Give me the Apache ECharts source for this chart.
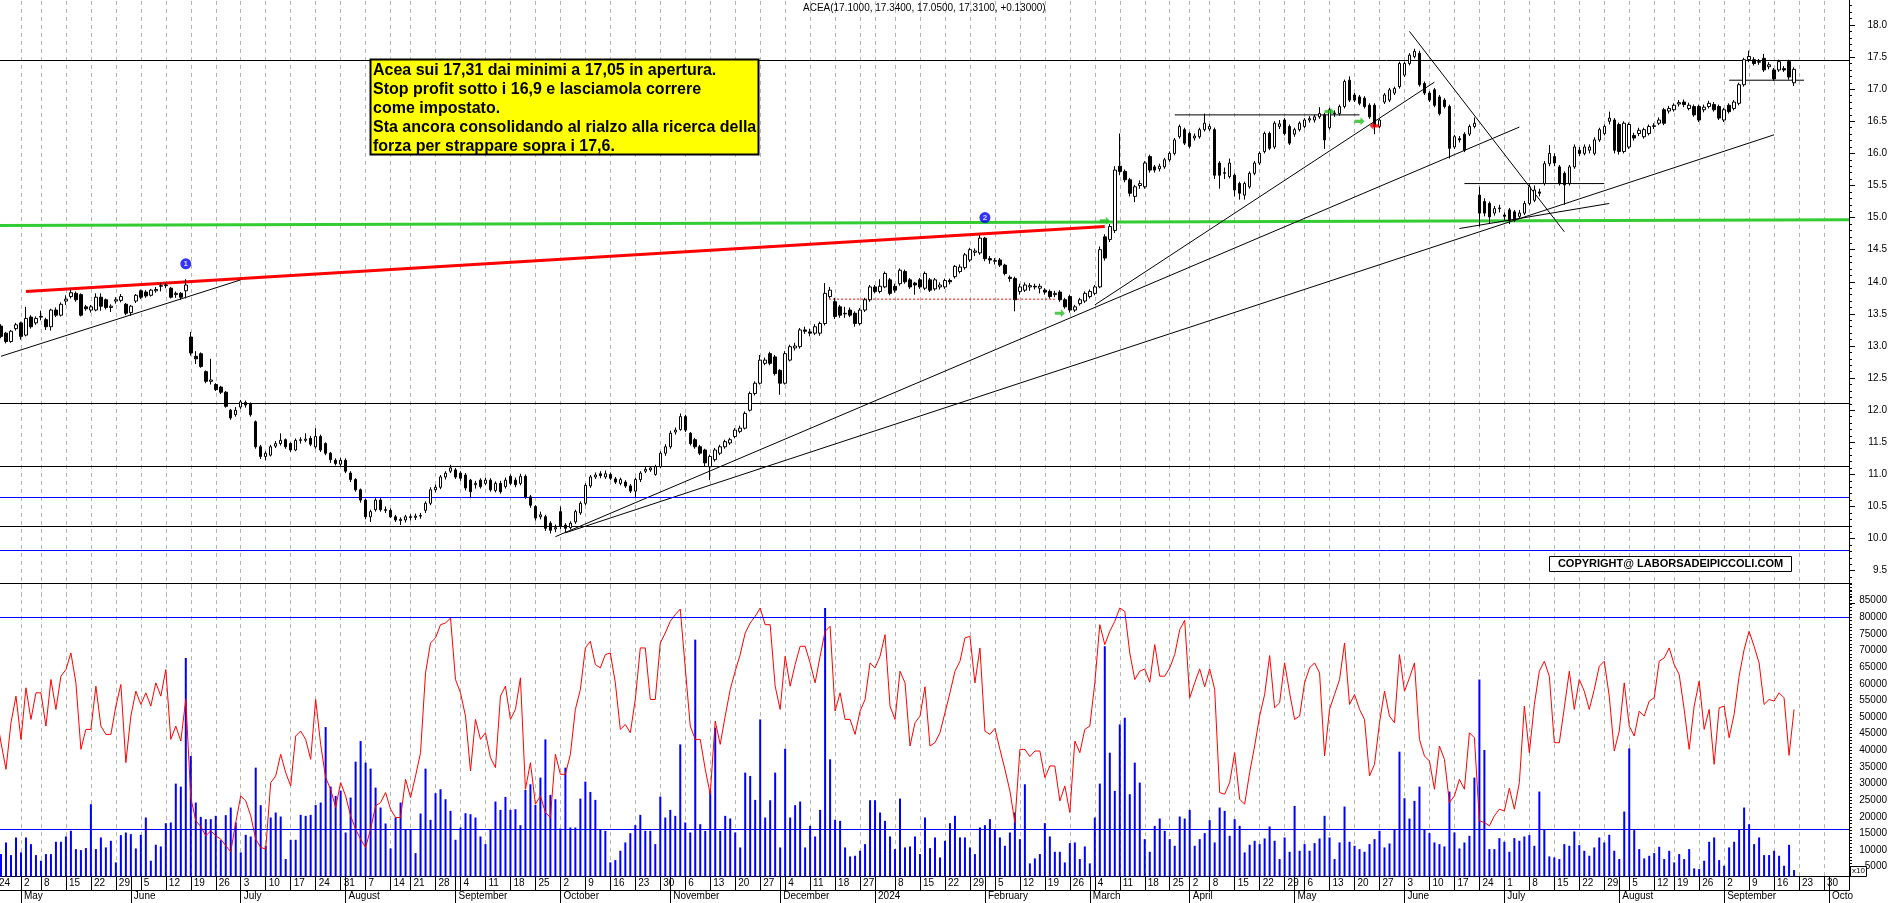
<!DOCTYPE html>
<html><head><meta charset="utf-8">
<script src="https://cdn.jsdelivr.net/npm/echarts@6/dist/echarts.min.js"></script>
<style>html,body{margin:0;padding:0;background:#fff}#c{width:1890px;height:903px}</style>
</head><body><div id="c"></div>
<script>
// ---------- DATA ----------
const START_DAY = '2023-04-24';
const HOLIDAYS = ['2023-05-01','2023-08-15','2023-12-25','2023-12-26','2024-01-01','2024-03-29','2024-04-01','2024-05-01','2024-08-15'];
const SLOT_COUNT = 372;
const MONTH_NAMES = ['January','February','March','April','May','June','July','August','September','October','November','December'];
const TITLE = 'ACEA(17.1000, 17.3400, 17.0500, 17.3100, +0.13000)';
const NOTE_LINES = ['Acea sui 17,31 dai minimi a 17,05 in apertura.','Stop profit sotto i 16,9 e lasciamola correre','come impostato.','Sta ancora consolidando al rialzo alla ricerca della','forza per strappare sopra i 17,6.'];
const COPYRIGHT = 'COPYRIGHT@ LABORSADEIPICCOLI.COM';

// [open, close, low, high] per trading day
const candles = [
[13.30,13.18,13.12,13.33],[13.31,13.15,13.12,13.34],[13.20,13.07,13.04,13.22],[13.07,13.23,13.05,13.25],[13.27,13.33,13.24,13.36],
[13.36,13.15,13.10,13.38],[13.17,13.43,13.15,13.61],[13.45,13.30,13.27,13.48],[13.36,13.43,13.33,13.46],[13.45,13.46,13.40,13.55],
[13.41,13.30,13.25,13.44],[13.30,13.56,13.24,13.58],[13.56,13.48,13.45,13.60],[13.48,13.65,13.46,13.68],[13.70,13.73,13.64,13.79],
[13.77,13.83,13.74,13.89],[13.82,13.72,13.69,13.85],[13.80,13.48,13.46,13.82],[13.61,13.58,13.55,13.64],[13.56,13.61,13.52,13.64],
[13.56,13.76,13.54,13.82],[13.76,13.62,13.55,13.82],[13.72,13.60,13.57,13.74],[13.60,13.62,13.53,13.65],[13.70,13.72,13.66,13.76],
[13.71,13.77,13.68,13.81],[13.65,13.51,13.48,13.67],[13.52,13.62,13.47,13.64],[13.70,13.79,13.67,13.81],[13.86,13.76,13.73,13.88],
[13.84,13.78,13.75,13.87],[13.79,13.87,13.77,13.89],[13.86,13.88,13.83,13.92],[13.93,13.94,13.85,13.98],[13.94,13.95,13.90,13.99],
[13.90,13.76,13.74,13.92],[13.80,13.82,13.75,13.85],[13.82,13.76,13.72,13.84],[13.86,13.95,13.74,14.04],[13.14,12.89,12.85,13.22],
[12.84,12.80,12.72,12.92],[12.88,12.68,12.66,12.90],[12.60,12.45,12.42,12.62],[12.45,12.47,12.40,12.80],[12.40,12.32,12.30,12.42],
[12.36,12.28,12.25,12.38],[12.28,12.06,12.04,12.30],[12.00,11.88,11.85,12.02],[11.93,12.00,11.90,12.05],[12.05,12.13,12.02,12.16],
[12.12,12.08,12.04,12.15],[12.10,11.93,11.90,12.12],[11.82,11.43,11.40,11.84],[11.43,11.28,11.24,11.46],[11.28,11.33,11.22,11.36],
[11.30,11.43,11.28,11.46],[11.44,11.48,11.41,11.52],[11.48,11.53,11.45,11.64],[11.54,11.43,11.40,11.56],[11.48,11.38,11.35,11.50],
[11.38,11.53,11.36,11.56],[11.53,11.54,11.48,11.58],[11.53,11.55,11.50,11.64],[11.56,11.47,11.44,11.60],[11.43,11.59,11.40,11.72],
[11.59,11.38,11.35,11.62],[11.48,11.33,11.30,11.50],[11.33,11.23,11.18,11.35],[11.22,11.17,11.14,11.25],[11.16,11.22,11.12,11.26],
[11.22,11.05,11.02,11.25],[11.02,10.92,10.88,11.05],[10.92,10.76,10.73,10.94],[10.76,10.60,10.56,10.78],[10.60,10.34,10.30,10.62],
[10.34,10.42,10.26,10.45],[10.45,10.60,10.42,10.63],[10.60,10.45,10.42,10.63],[10.45,10.44,10.40,10.50],[10.44,10.34,10.32,10.47],
[10.34,10.29,10.26,10.37],[10.28,10.30,10.21,10.33],[10.29,10.34,10.25,10.37],[10.34,10.33,10.28,10.38],[10.33,10.35,10.29,10.39],
[10.35,10.36,10.31,10.40],[10.44,10.55,10.40,10.58],[10.55,10.76,10.52,10.80],[10.76,10.80,10.72,10.84],[10.80,10.96,10.77,10.99],
[10.96,11.02,10.92,11.05],[11.05,11.10,11.02,11.15],[11.07,10.96,10.93,11.10],[11.02,10.94,10.90,11.05],[10.99,10.79,10.75,11.02],
[10.91,10.73,10.63,10.93],[10.84,10.86,10.78,10.90],[10.91,10.81,10.78,10.94],[10.86,10.91,10.83,10.95],[10.91,10.76,10.73,10.94],
[10.75,10.86,10.72,10.89],[10.86,10.73,10.70,10.90],[10.81,10.91,10.78,10.95],[10.97,10.86,10.83,11.00],[10.91,10.84,10.80,10.95],
[10.86,10.97,10.83,11.01],[10.97,10.65,10.62,11.00],[10.65,10.52,10.48,10.68],[10.50,10.32,10.28,10.52],[10.34,10.37,10.30,10.42],
[10.34,10.16,10.12,10.37],[10.24,10.13,10.08,10.27],[10.15,10.17,10.10,10.22],[10.42,10.19,10.15,10.50],[10.21,10.16,10.10,10.24],
[10.17,10.24,10.14,10.27],[10.26,10.42,10.23,10.45],[10.40,10.55,10.37,10.58],[10.55,10.83,10.52,10.86],[10.82,10.96,10.79,10.99],
[10.96,10.99,10.93,11.03],[11.01,10.98,10.94,11.05],[10.96,11.01,10.93,11.06],[11.00,10.94,10.91,11.03],[10.93,10.88,10.85,10.96],
[10.86,10.92,10.83,10.95],[10.88,10.82,10.79,10.91],[10.82,10.74,10.71,10.85],[10.74,10.92,10.65,10.95],[10.92,11.02,10.88,11.05],
[11.05,11.08,11.02,11.12],[11.07,11.10,11.04,11.13],[11.00,11.12,10.98,11.15],[11.12,11.33,11.10,11.36],[11.33,11.43,11.29,11.47],
[11.43,11.64,11.40,11.68],[11.66,11.69,11.62,11.73],[11.70,11.90,11.68,11.95],[11.90,11.69,11.66,11.93],[11.64,11.48,11.45,11.66],
[11.54,11.43,11.40,11.57],[11.43,11.33,11.30,11.46],[11.38,11.18,11.12,11.40],[11.12,11.28,10.91,11.31],[11.23,11.38,11.20,11.41],
[11.33,11.43,11.30,11.46],[11.43,11.51,11.40,11.54],[11.49,11.54,11.46,11.57],[11.59,11.69,11.56,11.72],[11.67,11.72,11.64,11.76],
[11.72,11.95,11.70,11.98],[12.00,12.26,11.98,12.29],[12.26,12.42,12.23,12.45],[12.42,12.78,12.40,12.86],[12.73,12.78,12.70,12.82],
[12.88,12.73,12.70,12.91],[12.83,12.57,12.54,12.86],[12.62,12.42,12.24,12.64],[12.42,12.88,12.40,12.92],[12.78,12.99,12.76,13.02],
[12.97,13.00,12.93,13.05],[12.99,13.25,12.96,13.28],[13.25,13.23,13.19,13.30],[13.22,13.20,13.15,13.27],[13.20,13.30,13.17,13.34],
[13.20,13.35,13.16,13.38],[13.35,13.82,13.32,13.98],[13.77,13.87,13.74,13.92],[13.69,13.46,13.42,13.75],[13.61,13.48,13.44,13.64],
[13.50,13.51,13.44,13.61],[13.56,13.48,13.45,13.60],[13.51,13.35,13.30,13.54],[13.35,13.56,13.32,13.59],[13.56,13.72,13.53,13.75],
[13.72,13.92,13.69,13.95],[13.92,13.85,13.82,13.95],[13.85,13.93,13.82,14.04],[13.92,14.13,13.90,14.16],[14.03,13.82,13.79,14.06],
[13.93,13.87,13.83,13.97],[13.97,14.18,13.94,14.21],[14.16,14.00,13.97,14.19],[14.03,13.92,13.89,14.06],[13.98,13.95,13.80,14.00],
[14.03,13.92,13.89,14.06],[13.90,14.13,13.87,14.16],[14.03,13.87,13.84,14.06],[13.89,14.03,13.86,14.06],[13.92,13.95,13.88,13.99],
[13.92,14.02,13.89,14.05],[14.02,14.00,13.96,14.05],[14.08,14.24,14.05,14.26],[14.16,14.23,14.13,14.27],[14.22,14.42,14.19,14.45],
[14.34,14.50,14.31,14.53],[14.46,14.48,14.40,14.52],[14.45,14.68,14.42,14.73],[14.68,14.36,14.32,14.70],[14.36,14.34,14.28,14.40],
[14.32,14.33,14.27,14.37],[14.34,14.26,14.23,14.37],[14.26,14.13,14.10,14.28],[14.07,14.05,14.00,14.10],[14.05,13.72,13.54,14.08],
[13.85,13.92,13.80,13.97],[13.87,13.95,13.84,13.99],[13.92,13.94,13.86,13.98],[13.93,13.92,13.88,13.97],[13.90,13.93,13.82,13.97],
[13.87,13.84,13.80,13.90],[13.85,13.77,13.74,13.88],[13.80,13.82,13.76,13.86],[13.84,13.72,13.69,13.87],[13.72,13.61,13.58,13.75],
[13.77,13.56,13.52,13.80],[13.56,13.61,13.53,13.64],[13.66,13.72,13.63,13.75],[13.70,13.82,13.67,13.85],[13.77,13.85,13.74,13.88],
[13.82,13.92,13.79,13.95],[13.92,14.50,13.90,14.55],[14.70,14.37,14.33,14.74],[14.66,14.86,14.62,14.90],[14.80,15.74,14.76,15.80],
[15.80,15.72,15.66,16.31],[15.72,15.59,15.55,15.75],[15.59,15.38,15.33,15.62],[15.33,15.48,15.24,15.51],[15.50,15.53,15.45,15.58],
[15.48,15.85,15.45,15.88],[15.95,15.74,15.70,15.98],[15.79,15.74,15.70,15.82],[15.76,15.80,15.72,15.84],[15.79,15.90,15.76,15.93],
[15.90,16.00,15.87,16.03],[16.00,16.21,15.97,16.24],[16.26,16.42,16.23,16.45],[16.37,16.16,16.13,16.40],[16.31,16.11,16.08,16.34],
[16.24,16.27,16.20,16.31],[16.26,16.37,16.23,16.40],[16.37,16.47,16.34,16.62],[16.38,16.42,16.35,16.46],[16.37,15.66,15.60,16.40],
[15.85,15.66,15.45,15.88],[15.69,15.70,15.60,15.78],[15.64,15.85,15.61,15.92],[15.66,15.43,15.33,15.69],[15.53,15.38,15.28,15.56],
[15.35,15.53,15.28,15.56],[15.48,15.69,15.45,15.72],[15.69,15.85,15.66,15.88],[15.85,16.00,15.82,16.03],[16.03,16.31,16.00,16.34],
[16.31,16.08,16.05,16.34],[16.10,16.47,16.07,16.50],[16.42,16.46,16.38,16.52],[16.52,16.31,16.28,16.55],[16.42,16.16,16.13,16.45],
[16.30,16.37,16.26,16.40],[16.37,16.47,16.34,16.50],[16.42,16.52,16.39,16.55],[16.52,16.54,16.48,16.58],[16.52,16.57,16.48,16.60],
[16.57,16.62,16.54,16.72],[16.60,16.21,16.07,16.63],[16.40,16.68,16.37,16.71],[16.63,16.62,16.57,16.67],[16.62,16.73,16.59,16.76],
[16.73,17.12,16.70,17.15],[17.14,16.83,16.80,17.20],[16.91,16.83,16.80,16.94],[16.88,16.78,16.75,16.91],[16.86,16.73,16.70,16.89],
[16.75,16.57,16.54,16.78],[16.75,16.42,16.30,16.78],[16.42,16.52,16.39,16.55],[16.80,16.91,16.77,16.94],[16.83,16.99,16.80,17.02],
[16.94,17.01,16.91,17.04],[17.04,17.40,17.01,17.43],[17.22,17.40,17.19,17.43],[17.40,17.53,17.37,17.56],[17.51,17.59,17.48,17.63],
[17.56,17.07,17.04,17.60],[17.09,16.94,16.91,17.12],[16.94,16.83,16.80,16.97],[16.99,16.75,16.72,17.02],[16.88,16.62,16.59,16.91],
[16.83,16.73,16.70,16.86],[16.73,16.08,15.92,16.76],[16.10,16.26,16.07,16.29],[16.23,16.21,16.17,16.27],[16.30,16.05,16.02,16.33],
[16.30,16.42,16.27,16.45],[16.42,16.47,16.39,16.56],[15.35,15.07,14.86,15.48],[15.25,15.07,15.02,15.30],[15.22,15.01,14.90,15.25],
[15.07,15.14,15.03,15.18],[15.14,15.15,15.08,15.20],[15.04,15.02,14.96,15.08],[15.12,14.96,14.90,15.15],[15.09,14.96,14.93,15.12],
[15.02,15.07,14.98,15.12],[15.07,15.22,15.04,15.26],[15.22,15.48,15.19,15.52],[15.27,15.43,15.24,15.50],[15.40,15.38,15.33,15.45],
[15.53,15.84,15.50,15.88],[15.84,16.00,15.80,16.13],[15.95,15.85,15.80,16.00],[15.79,15.53,15.50,15.82],[15.69,15.51,15.20,15.72],
[15.53,15.79,15.50,15.82],[15.79,16.10,15.76,16.14],[16.05,16.00,15.96,16.10],[16.00,16.10,15.97,16.14],[16.05,16.10,16.00,16.14],
[16.00,16.21,15.97,16.25],[16.21,16.37,16.18,16.40],[16.31,16.42,16.28,16.45],[16.50,16.55,16.45,16.65],[16.52,16.05,16.00,16.55],
[16.45,16.03,15.98,16.48],[16.03,16.47,16.00,16.50],[16.10,16.45,16.07,16.48],[16.28,16.24,16.20,16.32],[16.31,16.36,16.27,16.40],
[16.26,16.37,16.23,16.40],[16.31,16.42,16.28,16.45],[16.42,16.43,16.38,16.47],[16.47,16.52,16.44,16.56],[16.68,16.47,16.44,16.71],
[16.66,16.70,16.62,16.74],[16.68,16.75,16.65,16.78],[16.77,16.79,16.73,16.83],[16.80,16.76,16.72,16.84],[16.70,16.75,16.67,16.79],
[16.73,16.60,16.57,16.76],[16.73,16.52,16.49,16.76],[16.68,16.72,16.64,16.76],[16.73,16.78,16.70,16.82],[16.76,16.68,16.65,16.80],
[16.73,16.55,16.52,16.76],[16.52,16.68,16.49,16.71],[16.75,16.65,16.62,16.78],[16.70,16.80,16.67,16.83],[16.78,17.07,16.75,17.10],
[17.07,17.46,17.04,17.49],[17.46,17.51,17.42,17.60],[17.46,17.40,17.37,17.50],[17.42,17.43,17.38,17.47],[17.48,17.30,17.27,17.55],
[17.35,17.38,17.31,17.42],[17.30,17.16,17.13,17.33],[17.30,17.43,17.27,17.46],[17.32,17.30,17.27,17.36],[17.43,17.19,17.15,17.46],
[17.10,17.31,17.05,17.34]
];

// daily volume (chart units, x10)
const volume = [
9300,8800,12300,8500,13800,9300,13800,11800,8500,6800,
8800,8800,12500,12500,14100,15800,10300,10000,10600,23800,
10300,13800,10800,12800,6300,14500,15300,14800,10500,14600,
19800,6800,11600,11100,18100,18300,30000,29100,67800,38300,
24300,20000,19300,19300,20300,13000,20500,22800,18300,9300,
14600,14100,34800,23500,11300,19800,21300,20100,7300,13100,
13100,20600,20300,20600,23600,24300,47000,29100,26300,27900,
15300,25800,36600,42800,36300,34500,28800,22800,18000,10500,
19800,24300,16300,16100,9100,21000,34500,19100,27100,28300,
25300,21800,13100,16800,21100,20800,19800,14100,11800,16300,
24600,22100,26000,22100,22300,17500,28100,29800,23600,31800,
43300,26600,25300,16500,34800,16800,16800,25500,30600,27500,
25100,16300,15800,6300,7000,9800,12300,15100,17500,20600,
15800,15800,11800,26100,19800,22100,20300,41800,18300,15300,
73300,17800,15800,27800,46800,15800,20300,19500,15300,10800,
33300,32300,25100,49300,19800,25000,33300,10800,40500,19800,
23500,24600,10800,17300,14100,22100,82800,37300,19100,18800,
10800,8100,8300,9800,11800,25000,25000,21300,18800,14100,
10300,25500,10800,11100,14100,8800,19800,10600,13800,7800,
12800,18100,20300,13800,13800,10800,8800,16800,17500,19300,
16300,13800,11300,15300,21300,13300,29800,6000,7500,8800,
18100,14100,9500,9500,6300,12100,12300,7300,11100,6000,
19800,30000,71300,39300,27800,47800,49800,26800,36300,30300,
13300,9500,17300,19500,15800,13300,11300,20100,19500,22100,
11300,13300,15100,19000,12300,22800,21800,14300,19300,17300,
9300,11600,12800,11800,13500,17100,12800,7300,13800,9500,
23300,9800,11800,9800,12100,13500,20300,13800,7300,12300,
23100,12500,11300,10300,9500,11800,13300,15800,10800,12000,
16300,39600,25600,19500,24800,29100,16300,15100,12300,11800,
11100,27600,15300,10500,12300,14300,31800,61300,40100,10300,
10300,13600,12500,9500,13600,12800,14100,14500,11300,27600,
16300,8100,7800,7300,11800,11300,15600,11500,9800,8300,
10800,13800,12300,14600,9800,7300,21600,40600,16000,10300,
7500,8300,9100,11000,7300,9800,6300,8800,7300,10300,
4500,4300,6800,12500,13800,7000,5300,10800,12500,16300,
22800,17800,11800,13800,8500,8500,9800,8300,5300,11600,4000
];

// red oscillator drawn on the volume scale
const oscillator = [
51300,42300,34300,48300,56300,43300,58800,49300,57300,57300,
47300,61300,52300,62300,64300,69300,60300,40300,46300,46300,
59300,47300,44800,44800,53300,59800,36300,50300,57800,53800,
57300,53300,60300,56300,64300,43300,47300,42800,55300,25800,
18800,17100,14300,15800,14300,13300,11300,9500,18300,26300,
24800,20300,13300,10800,10300,30300,32300,38800,33300,29300,
44300,45800,43300,37300,55300,41800,31800,28300,22800,30300,
26300,20300,16300,13300,10800,16300,23300,24300,27300,22300,
19800,19800,31300,25800,32300,39300,63300,72300,73800,77800,
78300,79800,61300,57300,50300,33800,49300,43300,45300,37800,
34800,56300,59300,49300,52300,61800,28300,36300,23800,26300,
21300,19800,38800,32800,32800,38800,52300,58300,70800,72800,
65800,64800,68800,69300,60300,46300,47800,45300,55300,70800,
70800,55300,55300,72300,75300,78800,80800,82500,64800,47300,
43300,43300,34300,26800,48800,41800,50300,58300,63800,68800,
75300,78300,80300,82800,77800,77800,59300,52300,68300,59300,
65800,71300,71300,66300,60300,68300,75800,77300,51800,57300,
49300,49300,44800,51800,55300,66300,64800,68300,74800,53300,
49300,63800,60300,41300,48300,50300,59100,41300,42300,45300,
51300,57300,63800,66800,73800,74300,60300,70800,45800,44800,
46600,40300,34300,27800,18300,40300,40300,38100,39800,39800,
31800,35300,35300,24800,29300,21300,42800,39300,46300,47300,
60300,77800,71800,75800,78800,82800,81800,69300,61300,63800,
64500,60500,71800,62300,62300,64800,68800,76300,79100,55800,
60300,64500,59100,64500,58300,27300,26800,30300,39300,25300,
23800,33300,41300,50300,56800,68500,52800,54300,66300,57300,
49300,50300,60300,64800,66300,63300,38300,52300,56800,61300,
72300,53800,56800,52300,49300,32300,35800,48300,57800,50300,
48300,68800,57800,61800,66300,43300,38300,36800,28300,41300,
37300,24300,26300,31300,28300,45300,43800,18800,18300,17300,
20300,22300,21800,28600,22300,30300,53300,39300,53800,63800,
66800,62300,42300,42300,52800,63800,52300,61300,57800,52300,
58300,65300,66800,56300,39800,45800,60300,47300,44300,51800,
50300,54800,55800,66800,67800,70800,65800,62800,52300,40300,
53300,60800,46300,52300,35800,52800,53300,43800,50800,62300,
70300,75800,71300,66300,53800,55300,54800,57300,55800,38500,52300
];

// annotations (in data terms: date, price)
const priceLevelsBlack = [17.45, 12.11, 11.135, 10.19];
const priceLevelsBlue = [10.655, 9.82];
const volumeLevels = [80000, 16300];
const redResistance = [['2023-05-03', 13.85], ['2024-03-06', 14.86]];
const greenSupport = [['2023-04-24', 14.875], ['2024-10-07', 14.965]];
const trendLines = [
  [['2023-04-25', 12.84], ['2023-07-03', 14.03]],
  [['2023-09-29', 10.03], ['2024-07-04', 16.41]],
  [['2023-10-03', 10.09], ['2024-09-16', 16.29]],
  [['2024-03-04', 13.64], ['2024-06-11', 17.11]],
  [['2024-06-04', 17.90], ['2024-07-17', 14.78]],
  [['2024-06-18', 14.83], ['2024-07-30', 15.22]],
  [['2024-03-26', 16.60], ['2024-05-21', 16.60]],
  [['2024-06-19', 15.53], ['2024-07-29', 15.53]],
  [['2024-09-03', 17.14], ['2024-09-24', 17.14]]
];
const redDotted = [['2023-12-14', 13.73], ['2024-02-21', 13.73]];
const pivots = [['2023-06-16', 14.28, '1'], ['2024-02-01', 15.00, '2']];
const greenArrows = [['2024-03-06', 14.95], ['2024-02-22', 13.51], ['2024-05-13', 16.65], ['2024-05-21', 16.50]];
const redArrows = [['2024-05-24', 16.43]];

// ---------- CALENDAR ----------
function buildTradingDays(start, count, holidays) {
  const out = [], hs = new Set(holidays);
  let t = Date.UTC(+start.slice(0,4), +start.slice(5,7) - 1, +start.slice(8,10));
  while (out.length < count) {
    const d = new Date(t), wd = d.getUTCDay(), s = d.toISOString().slice(0,10);
    if (wd !== 0 && wd !== 6 && !hs.has(s)) out.push(s);
    t += 86400000;
  }
  return out;
}
function mondayKey(s) {
  const d = new Date(s + 'T00:00:00Z');
  const off = (d.getUTCDay() + 6) % 7;
  return new Date(d.getTime() - off * 86400000).toISOString().slice(0,10);
}
const dates = buildTradingDays(START_DAY, SLOT_COUNT, HOLIDAYS);
const isWeek = dates.map((d,i) => i === 0 || mondayKey(d) !== mondayKey(dates[i-1]));
const isMonth = dates.map((d,i) => i > 0 && d.slice(0,7) !== dates[i-1].slice(0,7));
const isYear = dates.map((d,i) => i > 0 && d.slice(0,4) !== dates[i-1].slice(0,4));

// ---------- CHART ----------
const FONT = '"Liberation Sans", Arial, sans-serif';
const chart = echarts.init(document.getElementById('c'), null, {renderer: 'canvas'});
const lineSeries = (pts, color, width, type) => ({
  type: 'line', xAxisIndex: 0, yAxisIndex: 0, data: pts, symbol: 'none', silent: true,
  lineStyle: {color: color, width: width, type: type || 'solid'}, z: 4, animation: false
});
const series = [];
series.push({
  type: 'candlestick', xAxisIndex: 0, yAxisIndex: 0, data: candles, barWidth: 3,
  itemStyle: {color: '#ffffff', color0: '#000000', borderColor: '#000000', borderColor0: '#000000', borderWidth: 1},
  z: 5, silent: true,
  markLine: {
    silent: true, symbol: ['none','none'], label: {show: false}, animation: false,
    data: priceLevelsBlack.map(v => ({yAxis: v, lineStyle: {color: '#000000', width: 1, type: 'solid'}}))
      .concat(priceLevelsBlue.map(v => ({yAxis: v, lineStyle: {color: '#0000ff', width: 1, type: 'solid'}})))
  }
});
series.push(lineSeries(greenSupport, '#33cc33', 3));
series.push(lineSeries(redResistance, '#ff0000', 3));
trendLines.forEach(t => series.push(lineSeries(t, '#000000', 1)));
series.push(lineSeries(redDotted, '#ff0000', 1, [2, 2]));
series.push({
  type: 'scatter', xAxisIndex: 0, yAxisIndex: 0, silent: true, z: 6,
  data: pivots.map(p => ({value: [p[0], p[1]], name: p[2]})),
  symbol: 'circle', symbolSize: 11, itemStyle: {color: '#0000ff'},
  label: {show: true, position: 'inside', formatter: '{b}', color: '#ffffff', fontSize: 8, fontWeight: 'bold', fontFamily: FONT}
});
const arrowPath = 'path://M0,3 L6,3 L6,0 L10,5 L6,10 L6,7 L0,7 Z';
series.push({
  type: 'scatter', xAxisIndex: 0, yAxisIndex: 0, silent: true, z: 6, data: greenArrows,
  symbol: arrowPath, symbolSize: [10, 8], itemStyle: {color: '#22bb22'}
});
series.push({
  type: 'scatter', xAxisIndex: 0, yAxisIndex: 0, silent: true, z: 6, data: redArrows,
  symbol: arrowPath, symbolSize: [10, 8], symbolRotate: 180, itemStyle: {color: '#ff0000'}
});
series.push({
  type: 'bar', xAxisIndex: 1, yAxisIndex: 1, data: volume, barWidth: 2, silent: true,
  itemStyle: {color: '#0000ff'}, z: 3,
  markLine: {
    silent: true, symbol: ['none','none'], label: {show: false}, animation: false,
    data: volumeLevels.map(v => ({yAxis: v, lineStyle: {color: '#0000ff', width: 1, type: 'solid'}}))
  }
});
series.push({
  type: 'line', xAxisIndex: 1, yAxisIndex: 1, data: oscillator, symbol: 'none', silent: true,
  lineStyle: {color: '#ff0000', width: 1}, z: 4
});

const dashed = {show: true, interval: (i) => isWeek[i], lineStyle: {color: '#b4b4b4', width: 1, type: [4, 4]}};
const option = {
  animation: false,
  backgroundColor: '#ffffff',
  textStyle: {fontFamily: FONT},
  grid: [
    {left: -4, top: -7.1, width: 1853, height: 609.9, containLabel: false, outerBoundsMode: 'none'},
    {left: -4, top: 584.1, width: 1853, height: 292.6, containLabel: false, outerBoundsMode: 'none'}
  ],
  xAxis: [
    {type: 'category', gridIndex: 0, data: dates, boundaryGap: false,
     axisLine: {show: false}, axisTick: {show: false}, axisLabel: {show: false}, splitLine: dashed},
    {type: 'category', gridIndex: 1, data: dates, boundaryGap: false, position: 'bottom',
     axisLine: {show: true, lineStyle: {color: '#000', width: 1}},
     axisTick: {show: true, interval: (i) => isWeek[i] || isMonth[i], length: 14, lineStyle: {color: '#000'}},
     axisLabel: {show: true, interval: (i) => isWeek[i] && i < SLOT_COUNT - 2, margin: 2, align: 'left', padding: [0,0,0,3],
       fontSize: 10, color: '#000', fontFamily: FONT,
       formatter: (v, i) => isYear[i] ? '' : String(+v.slice(8,10))},
     splitLine: dashed},
    {type: 'category', gridIndex: 1, data: dates, boundaryGap: false, position: 'bottom', offset: 14,
     axisLine: {show: true, lineStyle: {color: '#000', width: 1}},
     axisTick: {show: true, interval: (i) => isMonth[i], length: 13, lineStyle: {color: '#000'}},
     axisLabel: {show: true, interval: (i) => isMonth[i], margin: 1, align: 'left', padding: [0,0,0,3],
       fontSize: 10, color: '#000', fontFamily: FONT,
       formatter: (v, i) => {
         const name = isYear[i] ? v.slice(0,4) : MONTH_NAMES[+v.slice(5,7) - 1];
         return i > SLOT_COUNT - 6 ? name.slice(0,4) : name;
       }},
     splitLine: {show: false}}
  ],
  yAxis: [
    {type: 'value', gridIndex: 0, position: 'right', min: 9, max: 18.5, interval: 0.5,
     axisLine: {show: true, lineStyle: {color: '#000'}},
     axisTick: {show: true, length: 6, lineStyle: {color: '#000'}},
     minorTick: {show: true, splitNumber: 5, length: 3, lineStyle: {color: '#000'}},
     axisLabel: {show: true, margin: 38, align: 'right', fontSize: 10, color: '#000', fontFamily: FONT,
       formatter: v => (v >= 9.5 && v <= 18) ? v.toFixed(1) : ''},
     splitLine: {show: false}},
    {type: 'value', gridIndex: 1, position: 'right', min: 2000, max: 90000, interval: 1000,
     axisLine: {show: true, lineStyle: {color: '#000'}},
     axisTick: {show: true, length: 3, lineStyle: {color: '#000'}},
     axisLabel: {show: true, margin: 38, align: 'right', fontSize: 10, color: '#000', fontFamily: FONT,
       formatter: v => (v % 5000 === 0 && v >= 5000 && v <= 85000) ? String(v) : ''},
     splitLine: {show: false}}
  ],
  series: series,
  graphic: [
    {type: 'line', shape: {x1: 0, y1: 583.5, x2: 1852, y2: 583.5}, style: {stroke: '#000', lineWidth: 1}, z: 50, silent: true},
    {type: 'text', x: 803, y: 3, style: {text: TITLE, font: '10px ' + FONT, fill: '#000'}, z: 50, silent: true},
    {type: 'rect', shape: {x: 370.5, y: 59.5, width: 388, height: 95}, style: {fill: '#ffff00', stroke: '#000', lineWidth: 2}, z: 50, silent: true},
    {type: 'text', x: 373, y: 61, style: {text: NOTE_LINES.join('\n'), font: 'bold 16px ' + FONT, fill: '#000', lineHeight: 19}, z: 51, silent: true},
    {type: 'rect', shape: {x: 1549.5, y: 556.5, width: 242, height: 15}, style: {fill: '#ffffff', stroke: '#000', lineWidth: 1}, z: 50, silent: true},
    {type: 'text', x: 1670.5, y: 564, style: {text: COPYRIGHT, font: 'bold 11px ' + FONT, fill: '#000', align: 'center', verticalAlign: 'middle'}, z: 51, silent: true},
    {type: 'rect', shape: {x: 1850.5, y: 866.5, width: 16, height: 10}, style: {fill: '#ffffff', stroke: '#000', lineWidth: 1}, z: 50, silent: true},
    {type: 'text', x: 1852, y: 867, style: {text: 'x10', font: '8px ' + FONT, fill: '#000'}, z: 51, silent: true}
  ]
};
chart.setOption(option);
</script>
</body></html>
